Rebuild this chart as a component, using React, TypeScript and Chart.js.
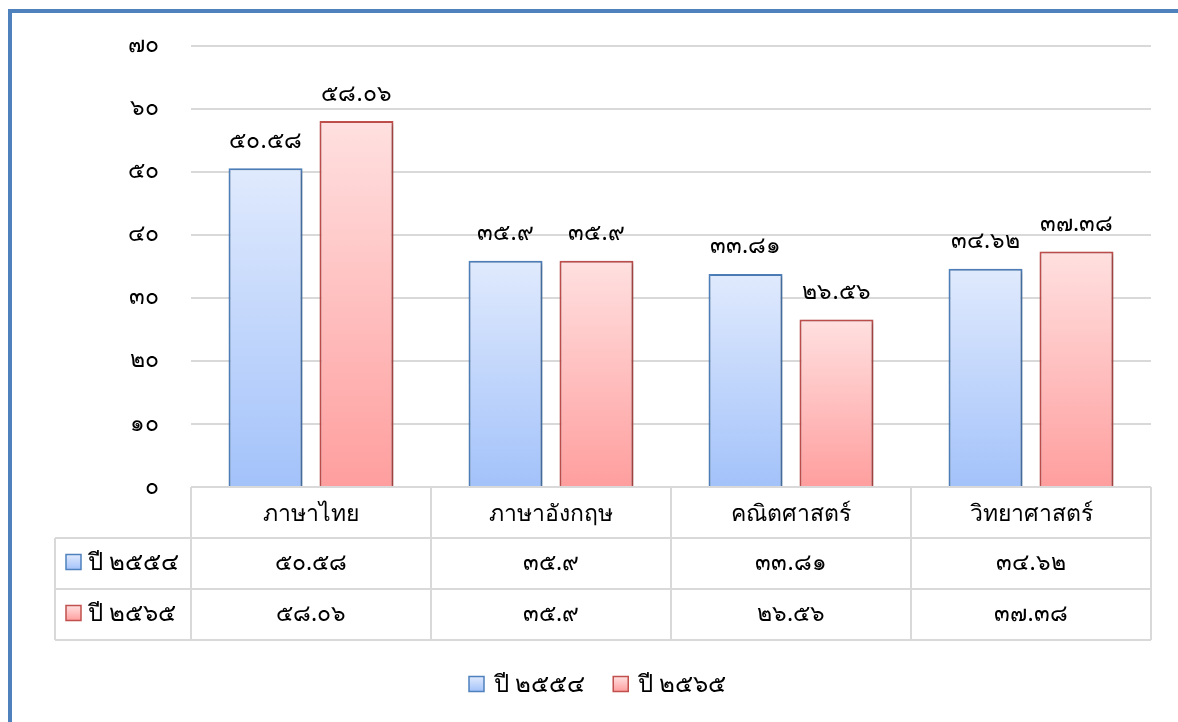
import React, { useEffect, useRef } from 'react';
import { Chart, registerables } from 'chart.js';

Chart.register(...registerables);

const categories = ['ภาษาไทย', 'ภาษาอังกฤษ', 'คณิตศาสตร์', 'วิทยาศาสตร์'];
const seriesNames = ['ปี ๒๕๕๔', 'ปี ๒๕๖๕'];
const values2554 = [50.58, 35.9, 33.81, 34.62];
const values2565 = [58.06, 35.9, 26.56, 37.38];
const yMin = 0;
const yMax = 70;
const yStep = 10;

const borderColors = ['#4F81BD', '#C0504D'];
const gradTop = ['#E0EAFD', '#FFE0E0'];
const gradBottom = ['#A3C2FA', '#FF9E9E'];

const FONT = "'Noto Sans', 'DejaVu Sans', sans-serif";
const thaiDigits = '๐๑๒๓๔๕๖๗๘๙';
const toThai = (v: number | string) => String(v).replace(/[0-9]/g, (d) => thaiDigits[Number(d)]);

const ROW_H = 51;
const LEFT_COL_X = 55;
const NUM_SIZE = 23;

function drawSwatch(ctx: CanvasRenderingContext2D, x: number, y: number, s: number, i: number) {
  const g = ctx.createLinearGradient(0, y, 0, y + s);
  g.addColorStop(0, gradTop[i]);
  g.addColorStop(1, gradBottom[i]);
  ctx.fillStyle = g;
  ctx.fillRect(x, y, s, s);
  ctx.strokeStyle = borderColors[i];
  ctx.lineWidth = 1.5;
  ctx.strokeRect(x, y, s, s);
}

const overlayPlugin = {
  id: 'overlay',
  beforeDraw(chart: any) {
    const ctx = chart.ctx as CanvasRenderingContext2D;
    ctx.save();
    ctx.fillStyle = '#ffffff';
    ctx.fillRect(0, 0, chart.width, chart.height);
    ctx.strokeStyle = '#4F81BD';
    ctx.lineWidth = 4;
    ctx.beginPath();
    ctx.moveTo(10, chart.height + 5);
    ctx.lineTo(10, 11);
    ctx.lineTo(chart.width + 5, 11);
    ctx.stroke();
    ctx.restore();
  },
  beforeDatasetsDraw(chart: any) {
    const ctx = chart.ctx as CanvasRenderingContext2D;
    ctx.save();
    ctx.shadowColor = 'rgba(0,0,0,0.28)';
    ctx.shadowBlur = 4;
    ctx.shadowOffsetX = 1.5;
    ctx.shadowOffsetY = 1.5;
  },
  afterDatasetsDraw(chart: any) {
    const ctx = chart.ctx as CanvasRenderingContext2D;
    ctx.restore();
    ctx.save();
    ctx.font = `${NUM_SIZE}px ${FONT}`;
    ctx.fillStyle = '#000';
    ctx.textAlign = 'center';
    ctx.textBaseline = 'middle';
    chart.data.datasets.forEach((ds: any, di: number) => {
      const meta = chart.getDatasetMeta(di);
      meta.data.forEach((bar: any, i: number) => {
        ctx.fillText(toThai(ds.data[i]), bar.x, bar.y - 27);
      });
    });
    ctx.restore();
  },
  afterDraw(chart: any) {
    const ctx = chart.ctx as CanvasRenderingContext2D;
    const area = chart.chartArea;
    const xs = chart.scales.x;
    const n = categories.length;
    const w = xs.getPixelForValue(1) - xs.getPixelForValue(0);
    const left = xs.getPixelForValue(0) - w / 2;
    const edges: number[] = [];
    for (let i = 0; i <= n; i++) edges.push(left + i * w);
    const top = area.bottom;
    const r1 = top + ROW_H;
    const r2 = r1 + ROW_H;
    const r3 = r2 + ROW_H;
    ctx.save();
    ctx.strokeStyle = '#D9D9D9';
    ctx.lineWidth = 2;
    ctx.beginPath();
    ctx.moveTo(edges[0], top);
    ctx.lineTo(edges[n], top);
    [r1, r2, r3].forEach((y) => {
      ctx.moveTo(LEFT_COL_X, y);
      ctx.lineTo(edges[n], y);
    });
    edges.forEach((x) => {
      ctx.moveTo(x, top);
      ctx.lineTo(x, r3);
    });
    ctx.moveTo(LEFT_COL_X, r1);
    ctx.lineTo(LEFT_COL_X, r3);
    ctx.stroke();

    const rows = [values2554, values2565];
    ctx.textBaseline = 'middle';
    rows.forEach((vals, ri) => {
      const yc = r1 + ri * ROW_H + ROW_H / 2;
      drawSwatch(ctx, 66, yc - 9, 15, ri);
      ctx.fillStyle = '#000';
      ctx.font = `24px ${FONT}`;
      ctx.textAlign = 'left';
      ctx.fillText(seriesNames[ri], 88, yc);
      ctx.font = `${NUM_SIZE}px ${FONT}`;
      ctx.textAlign = 'center';
      vals.forEach((v, ci) => {
        ctx.fillText(toThai(v), (edges[ci] + edges[ci + 1]) / 2, yc);
      });
    });

    // legend
    ctx.font = `24px ${FONT}`;
    ctx.textAlign = 'left';
    const legendY = 685;
    const box = 15;
    const gapBoxText = 10;
    const gapItems = 28;
    let x = 469;
    seriesNames.forEach((name, i) => {
      drawSwatch(ctx, x, legendY - box / 2 - 1, box, i);
      ctx.fillStyle = '#000';
      ctx.fillText(name, x + box + gapBoxText, legendY);
      x += box + gapBoxText + ctx.measureText(name).width + gapItems;
    });
    ctx.restore();
  },
};

function makeGradient(ctx: any, di: number) {
  const chart = ctx.chart;
  const ys = chart.scales && chart.scales.y;
  if (!ys || !chart.chartArea) return gradBottom[di];
  const v = ctx.raw as number;
  const yTop = ys.getPixelForValue(v);
  const yBase = ys.getPixelForValue(0);
  const g = chart.ctx.createLinearGradient(0, yTop, 0, yBase);
  g.addColorStop(0, gradTop[di]);
  g.addColorStop(1, gradBottom[di]);
  return g;
}

export default function App() {
  const ref = useRef<HTMLCanvasElement | null>(null);
  useEffect(() => {
    document.body.style.margin = '0';
    const canvas = ref.current!;
    const chart = new Chart(canvas, {
      type: 'bar',
      data: {
        labels: categories,
        datasets: [
          {
            label: seriesNames[0],
            data: values2554,
            backgroundColor: (c: any) => makeGradient(c, 0),
            borderColor: borderColors[0],
            borderWidth: 2,
          },
          {
            label: seriesNames[1],
            data: values2565,
            backgroundColor: (c: any) => makeGradient(c, 1),
            borderColor: borderColors[1],
            borderWidth: 2,
          },
        ],
      },
      options: {
        animation: false,
        responsive: false,
        devicePixelRatio: 1,
        datasets: {
          bar: {
            categoryPercentage: 0.758,
            barPercentage: 0.813,
          },
        },
        layout: { padding: { top: 45, right: 27, left: 0, bottom: 0 } },
        plugins: {
          legend: { display: false },
          tooltip: { enabled: false },
        },
        scales: {
          x: {
            grid: { display: false, drawTicks: false },
            border: { display: false },
            ticks: {
              padding: 14,
              color: '#000',
              font: { family: FONT, size: 23 },
            },
            afterFit: (s: any) => {
              s.height = 235;
            },
          },
          y: {
            min: yMin,
            max: yMax,
            grid: { color: '#D9D9D9', lineWidth: 2, drawTicks: false },
            border: { display: false },
            ticks: {
              stepSize: yStep,
              padding: 32,
              color: '#000',
              font: { family: FONT, size: NUM_SIZE },
              callback: (v: any) => toThai(v),
            },
            afterFit: (s: any) => {
              s.width = 191;
            },
          },
        },
      },
      plugins: [overlayPlugin],
    });
    return () => chart.destroy();
  }, []);
  return (
    <div style={{ width: 1178, height: 722 }}>
      <canvas ref={ref} width={1178} height={722} style={{ display: 'block' }} />
    </div>
  );
}
